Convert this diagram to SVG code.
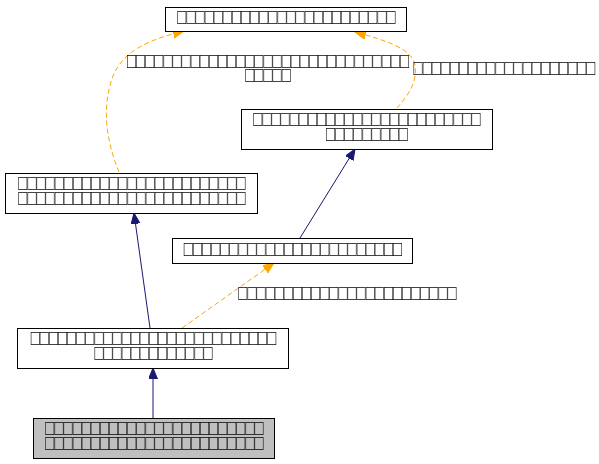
<svg xmlns="http://www.w3.org/2000/svg" width="599" height="464" viewBox="0 0 599 464">
<style>
.node rect{fill:#ffffff;stroke:#000000;stroke-width:1}
.node.focus rect{fill:#bfbfbf}
text{font-family:"Liberation Sans",Arial,sans-serif;font-size:15px;letter-spacing:0.04px;fill:#000000;text-anchor:middle;filter:url(#gray)}
.e{fill:none;stroke-width:1}
.inh{stroke:#191970}
.use{stroke:#ffa500;stroke-dasharray:5,3}
</style>
<defs>
<filter id="gray" x="-5%" y="-20%" width="110%" height="140%"><feOffset dx="0" dy="0"/></filter>
<marker id="an" markerUnits="userSpaceOnUse" markerWidth="12" markerHeight="10" refX="11" refY="4.5" orient="auto"><path d="M0,0 L11,4.5 L0,9 z" fill="#191970" stroke="#191970"/></marker>
<marker id="ao" markerUnits="userSpaceOnUse" markerWidth="12" markerHeight="10" refX="11" refY="4.5" orient="auto"><path d="M0,0 L11,4.5 L0,9 z" fill="#ffa500" stroke="#ffa500"/></marker>
</defs>
<g id="edges">
<path class="e use" marker-end="url(#ao)" d="M119,172 C110,150 103,122 108,95 C113,62 130,44 184,31"/>
<text transform="translate(268,67.7) scale(1,1.45)"><tspan x="0" y="0">□□□□□□□□□□□□□□□□□□□□□□□□□□□□□□□</tspan><tspan x="0" y="9.9">□□□□□</tspan></text>
<path class="e use" marker-end="url(#ao)" d="M397,108 C405,98 418,85 415,65 C412,50 392,42 355,32"/>
<text transform="translate(504.5,75) scale(1,1.45)">□□□□□□□□□□□□□□□□□□□□</text>
<path class="e inh" marker-end="url(#an)" d="M300,238 L355,149"/>
<path class="e inh" marker-end="url(#an)" d="M150,328 L134,213"/>
<path class="e use" marker-end="url(#ao)" d="M182,328 L274,263"/>
<text transform="translate(347.5,300) scale(1,1.45)">□□□□□□□□□□□□□□□□□□□□□□□□</text>
<path class="e inh" marker-end="url(#an)" d="M153,418 L153,368"/>
</g>
<g id="node1" class="node">
<rect x="165.5" y="7.5" width="241" height="24"/>
<text transform="translate(286.5,24.3) scale(1,1.45)">□□□□□□□□□□□□□□□□□□□□□□□□</text>
</g>
<g id="node2" class="node">
<rect x="241.5" y="109.5" width="251" height="40"/>
<text transform="translate(367,126.3) scale(1,1.45)"><tspan x="0" y="0">□□□□□□□□□□□□□□□□□□□□□□□□□</tspan><tspan x="0" y="10.1">□□□□□□□□□</tspan></text>
</g>
<g id="node3" class="node">
<rect x="5.5" y="173.5" width="252" height="40"/>
<text transform="translate(132,190.3) scale(1,1.45)"><tspan x="0" y="0">□□□□□□□□□□□□□□□□□□□□□□□□□</tspan><tspan x="0" y="10.1">□□□□□□□□□□□□□□□□□□□□□□□□□</tspan></text>
</g>
<g id="node4" class="node">
<rect x="172.5" y="238.5" width="240" height="25"/>
<text transform="translate(293,256) scale(1,1.45)">□□□□□□□□□□□□□□□□□□□□□□□□</text>
</g>
<g id="node5" class="node">
<rect x="17.5" y="328.5" width="271" height="40"/>
<text transform="translate(153.5,345.3) scale(1,1.45)"><tspan x="0" y="0">□□□□□□□□□□□□□□□□□□□□□□□□□□□</tspan><tspan x="0" y="10.1">□□□□□□□□□□□□□</tspan></text>
</g>
<g id="node6" class="node focus">
<rect x="33.5" y="418.5" width="241" height="40"/>
<text transform="translate(154.5,435.3) scale(1,1.45)"><tspan x="0" y="0">□□□□□□□□□□□□□□□□□□□□□□□□</tspan><tspan x="0" y="10.1">□□□□□□□□□□□□□□□□□□□□□□□□</tspan></text>
</g>
</svg>
